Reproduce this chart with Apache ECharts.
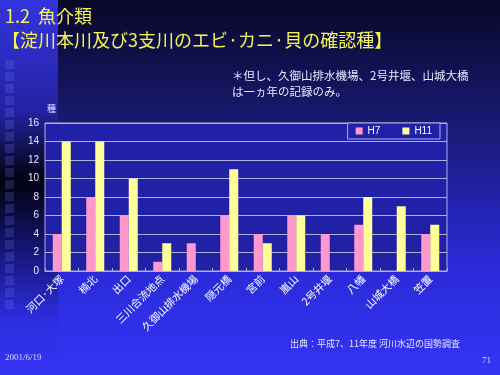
<!DOCTYPE html>
<html><head><meta charset="utf-8">
<script src="https://cdn.jsdelivr.net/npm/echarts@6/dist/echarts.min.js"></script>
<style>html,body{margin:0;padding:0;background:#1a1a80;}#c{width:500px;height:375px;}</style>
</head><body><div id="c"></div>
<script>
const categories = ['河口·大塚','楠北','出口','三川合流地点','久御山排水機場','隠元橋','宮前','嵐山','2号井堰','八幡','山城大橋','笠置'];
const h7 = [4, 8, 6, 1, 3, 6, 4, 6, 4, 5, null, 4];
const h11 = [14, 14, 10, 3, null, 11, 3, 6, null, 8, 7, 5];
const yTicks = [0, 2, 4, 6, 8, 10, 12, 14, 16];

const chart = echarts.init(document.getElementById('c'), null, {renderer: 'canvas'});
const font = '"Noto Sans CJK JP", "Liberation Sans", sans-serif';
const squares = [];
for (let i = 0; i < 21; i++) {
  squares.push({type: 'rect', shape: {x: 5, y: 60 + i * 12, width: 9, height: 9},
    style: {fill: 'rgba(120,130,255,0.2)'}, z: -9});
}
chart.setOption({
  backgroundColor: 'transparent',
  textStyle: {fontFamily: font},
  graphic: [
    {type: 'rect', shape: {x: 0, y: 0, width: 500, height: 375}, z: -11,
      style: {fill: new echarts.graphic.LinearGradient(0, 0, 0, 1, [
        {offset: 0, color: '#080828'}, {offset: 0.35, color: '#1a1a78'},
        {offset: 0.7, color: '#2a2ad8'}, {offset: 1, color: '#3434f4'}])}},
    {type: 'rect', shape: {x: 0, y: 0, width: 58, height: 375}, z: -10,
      style: {fill: new echarts.graphic.LinearGradient(0, 0, 0, 1, [
        {offset: 0, color: '#3434e0'}, {offset: 0.3, color: '#2222a0'},
        {offset: 0.48, color: '#020210'}, {offset: 0.62, color: '#10105a'},
        {offset: 0.85, color: '#2c2ce0'}, {offset: 1, color: '#3434f4'}])}},
    ...squares,
    {type: 'text', left: 5, top: 7, style: {text: '1.2  魚介類', fill: '#f4f45a', font: '18px ' + font}},
    {type: 'text', left: 2, top: 31, style: {text: '【淀川本川及び3支川のエビ·カニ·貝の確認種】', fill: '#f4f45a', font: '18px ' + font}},
    {type: 'text', left: 232, top: 68, style: {text: '＊但し、久御山排水機場、2号井堰、山城大橋\nは一ヵ年の記録のみ。', fill: '#e8e8ff', font: '11.5px ' + font, lineHeight: 16}},
    {type: 'text', left: 47, top: 104, style: {text: '種', fill: '#e8e8ff', font: '9px ' + font}},
    {type: 'text', left: 290, top: 339, style: {text: '出典：平成7、11年度 河川水辺の国勢調査', fill: '#e8e8ff', font: '9px ' + font}},
    {type: 'text', left: 5, top: 353, style: {text: '2001/6/19', fill: '#d8d8ff', font: '9px "Liberation Serif", serif'}},
    {type: 'text', left: 482, top: 356, style: {text: '71', fill: '#d8d8ff', font: '9px "Liberation Serif", serif'}}
  ],
  legend: {
    data: ['H7', 'H11'], right: 60, top: 123, orient: 'horizontal',
    itemWidth: 7, itemHeight: 7, itemGap: 22, padding: [3, 8, 3, 8],
    borderColor: '#b0b0e0', borderWidth: 1, backgroundColor: '#2020a8',
    textStyle: {color: '#ffffff', fontSize: 10, fontFamily: '"Liberation Sans", sans-serif'},
    icon: 'rect'
  },
  grid: {left: 45, right: 53, top: 123, bottom: 104, show: true, backgroundColor: '#2121a8', borderColor: '#b0b0e0', borderWidth: 1},
  xAxis: {
    type: 'category', data: categories,
    axisLine: {lineStyle: {color: '#b0b0e0'}},
    axisTick: {show: true, inside: true, length: 3, lineStyle: {color: '#b0b0e0'}},
    axisLabel: {rotate: 45, color: '#ffffff', fontSize: 10.5, interval: 0, margin: 6, fontFamily: font}
  },
  yAxis: {
    type: 'value', min: 0, max: 16, interval: 2,
    axisLine: {show: false}, axisTick: {show: false},
    axisLabel: {color: '#e8e8ff', fontSize: 10, margin: 6, fontFamily: '"Liberation Sans", sans-serif',
      formatter: v => yTicks.includes(v) ? String(v) : ''},
    splitLine: {lineStyle: {color: '#b0b0e0', width: 1}}
  },
  series: [
    {name: 'H7', type: 'bar', data: h7, barWidth: 9, barGap: '0%', itemStyle: {color: '#ff99cc'}},
    {name: 'H11', type: 'bar', data: h11, barWidth: 9, barGap: '0%', itemStyle: {color: '#ffff99'}}
  ]
});
</script></body></html>
